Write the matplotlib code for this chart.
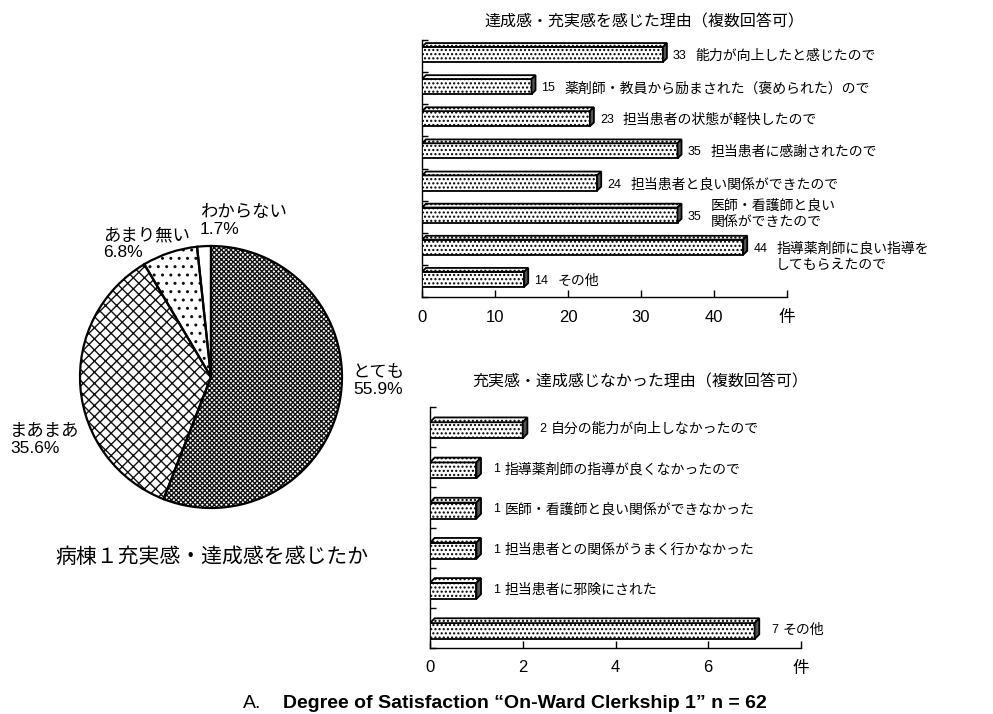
import numpy as np
import matplotlib
matplotlib.use("Agg")
import matplotlib.pyplot as plt
from matplotlib.patches import Polygon, Rectangle

plt.rcParams['font.family'] = ['Liberation Sans', 'Noto Sans CJK JP']
plt.rcParams['hatch.linewidth'] = 1.0

# pie: satisfaction
pie_labels = ['とても', 'まあまあ', 'あまり無い', 'わからない']
pie_pct = [55.9, 35.6, 6.8, 1.7]

# reasons felt satisfied (multiple answers)
good_labels = ['能力が向上したと感じたので',
               '薬剤師・教員から励まされた（褒められた）ので',
               '担当患者の状態が軽快したので',
               '担当患者に感謝されたので',
               '担当患者と良い関係ができたので',
               '医師・看護師と良い\n関係ができたので',
               '指導薬剤師に良い指導を\nしてもらえたので',
               'その他']
good_counts = [33, 15, 23, 35, 24, 35, 44, 14]

# reasons not satisfied (multiple answers)
bad_labels = ['自分の能力が向上しなかったので',
              '指導薬剤師の指導が良くなかったので',
              '医師・看護師と良い関係ができなかった',
              '担当患者との関係がうまく行かなかった',
              '担当患者に邪険にされた',
              'その他']
bad_counts = [2, 1, 1, 1, 1, 7]

W, H = 993, 714
fig = plt.figure(figsize=(W / 100, H / 100), dpi=100)


def fx(px):
    return px / W


def fy(py):
    return 1 - py / H


# ---- pie ----
r = 131
cx, cy = 211, 377
axp = fig.add_axes([fx(cx - r), fy(cy + r), 2 * r / W, 2 * r / H])
hatches = ['xxxxxxx', 'xxx', '..', '']
axp.pie(pie_pct, startangle=90, counterclock=False, radius=1,
        colors=['white'] * 4, hatch=hatches,
        wedgeprops=dict(edgecolor='#111111', linewidth=0))
axp.pie(pie_pct, startangle=90, counterclock=False, radius=1,
        colors=['none'] * 4, wedgeprops=dict(edgecolor='black', linewidth=1.6))
axp.set_xlim(-1, 1)
axp.set_ylim(-1, 1)
axp.set_aspect('equal')
axp.axis('off')

pie_text_pos = [(353, 381), (10, 440), (103, 244), (200, 221)]
for lab, pct, (px, py) in zip(pie_labels, pie_pct, pie_text_pos):
    fig.text(fx(px), fy(py), f'{lab}\n{pct:.1f}%', ha='left', va='center',
             fontsize=12.5, linespacing=1.15)
fig.text(fx(212), fy(557), '病棟１充実感・達成感を感じたか', ha='center', va='center',
         fontsize=15)


def bar3d(ax, counts, dx, dy, h, shift):
    n = len(counts)
    for i, v in enumerate(counts):
        c = n - 1 - i + shift
        y0, y1 = c - h / 2, c + h / 2
        ax.add_patch(Rectangle((0, y0), v, h, facecolor='white', edgecolor='black',
                               hatch='....', linewidth=1.3, zorder=3))
        ax.add_patch(Polygon([(0, y1), (v, y1), (v + dx, y1 + dy), (dx, y1 + dy)],
                             closed=True, facecolor='white', edgecolor='black',
                             hatch='....', linewidth=1.3, zorder=3))
        ax.add_patch(Polygon([(v, y0), (v + dx, y0 + dy), (v + dx, y1 + dy), (v, y1)],
                             closed=True, facecolor='#555555', edgecolor='black',
                             linewidth=1.3, zorder=3))


def style_axes(ax, n, xmax, step):
    ax.set_xlim(0, xmax)
    ax.set_ylim(-0.5, n - 0.5)
    ticks = np.arange(0, xmax + step, step)
    ax.set_xticks(ticks)
    ax.set_xticklabels([str(int(t)) for t in ticks[:-1]] + ['件'], fontsize=12)
    ax.set_yticks(np.arange(-0.5, n, 1.0))
    ax.set_yticklabels([])
    ax.tick_params(axis='x', direction='in', length=5, width=1, pad=9)
    ax.tick_params(axis='y', direction='in', length=4, width=1)
    for s in ['top', 'right']:
        ax.spines[s].set_visible(False)
    for s in ['left', 'bottom']:
        ax.spines[s].set_linewidth(1.0)


# ---- upper bar chart ----
ax1 = fig.add_axes([fx(422), fy(297), fx(787) - fx(422), fy(40) - fy(297)])
style_axes(ax1, len(good_counts), 50, 10)
bar3d(ax1, good_counts, 0.55, 0.12, 0.47, 0.05)
fig.text(fx(644), fy(22), '達成感・充実感を感じた理由（複数回答可）', ha='center', va='center',
         fontsize=11.5)
n = len(good_counts)
for i, (v, lab) in enumerate(zip(good_counts, good_labels)):
    c = n - 1 - i
    ax1.annotate(str(v), (v, c), xytext=(10, 0), textcoords='offset pixels',
                 ha='left', va='center', fontsize=9, annotation_clip=False)
    off_y = 0
    if i == 5:
        off_y = 3
    if i == 6:
        off_y = -8
    ax1.annotate(lab, (v, c), xytext=(33, off_y), textcoords='offset pixels',
                 ha='left', va='center', fontsize=10, linespacing=1.2,
                 annotation_clip=False)

# ---- lower bar chart ----
ax2 = fig.add_axes([fx(430), fy(648), fx(801) - fx(430), fy(407) - fy(648)])
style_axes(ax2, len(bad_counts), 8, 2)
bar3d(ax2, bad_counts, 0.1, 0.12, 0.4, -0.08)
fig.text(fx(640), fy(382), '充実感・達成感じなかった理由（複数回答可）', ha='center', va='center',
         fontsize=11.5)
n = len(bad_counts)
for i, (v, lab) in enumerate(zip(bad_counts, bad_labels)):
    c = n - 1 - i - 0.05
    ax2.annotate(str(v), (v, c), xytext=(17, 0), textcoords='offset pixels',
                 ha='left', va='center', fontsize=9, annotation_clip=False)
    ax2.annotate(lab, (v, c), xytext=(28, 0), textcoords='offset pixels',
                 ha='left', va='center', fontsize=10, annotation_clip=False)

fig.text(fx(243), fy(708), 'A.', ha='left', va='baseline', fontsize=14)
fig.text(fx(283), fy(708), 'Degree of Satisfaction \u201cOn-Ward Clerkship 1\u201d n = 62',
         ha='left', va='baseline', fontsize=14, fontweight='bold')

fig.savefig('out.png', dpi=100, facecolor='white')
